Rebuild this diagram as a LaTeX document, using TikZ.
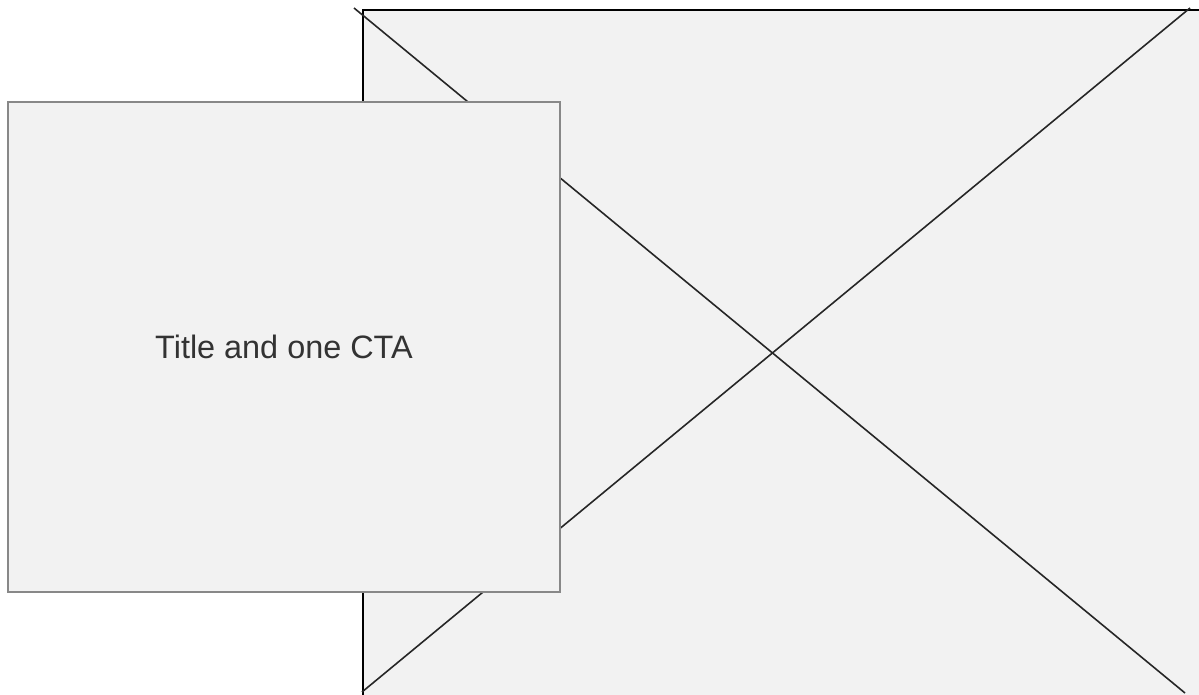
\documentclass[tikz,border=0pt]{standalone}
\usepackage{fontspec}
\setmainfont{Liberation Sans}
\usetikzlibrary{positioning}
\definecolor{wffill}{HTML}{F2F2F2}
\definecolor{wfedge}{HTML}{888888}
\definecolor{wftext}{HTML}{333333}
\begin{document}
\begin{tikzpicture}[x=1pt,y=-1pt]
\tikzset{
  imgbox/.style={draw=black,fill=wffill,line width=2pt,anchor=north west,
    minimum width=840pt,minimum height=688pt,inner sep=0pt,outer sep=0pt},
  cross/.style={black!85,line width=1.6pt},
  ctabox/.style={draw=wfedge,fill=wffill,line width=2.8pt,
    minimum width=552pt,minimum height=490pt,inner sep=0pt,
    font=\fontsize{32.4}{38}\selectfont,text=wftext}
}
\useasboundingbox (0,0) rectangle (1199,694);
% placeholder image
\node[imgbox] (img) at (363,10) {};
\coordinate (tl) at (354,8);
\coordinate (br) at (1185,693);
\coordinate (bl) at (362,692);
\coordinate (tr) at (1190,8);
\draw[cross] (tl) -- (br);
\draw[cross] (bl) -- (tr);
% text block on top
\node[ctabox] (cta) at (284,347) {Title and one CTA};
\end{tikzpicture}
\end{document}
